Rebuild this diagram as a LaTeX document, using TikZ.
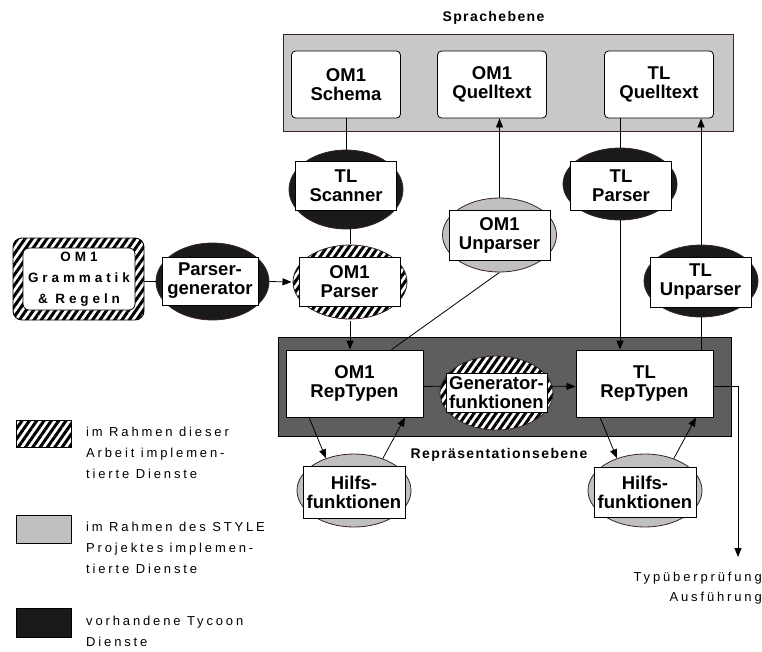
\documentclass[tikz,border=0pt]{standalone}
\usepackage{fontspec}
\setmainfont{Liberation Sans}
\newfontfamily\spacedfont{Liberation Sans}[LetterSpace=22]
\newfontfamily\widefont{Liberation Sans}[LetterSpace=29]
\newfontfamily\titlefont{Liberation Sans}[LetterSpace=10]
\usetikzlibrary{shapes.geometric,arrows.meta,patterns.meta}

\definecolor{langgray}{HTML}{C8C8C8}
\definecolor{repgray}{HTML}{5E5E5E}
\definecolor{stylegray}{HTML}{C0C0C0}
\definecolor{tycoon}{HTML}{1A1A1A}
\definecolor{rim}{HTML}{3A2424}

\tikzset{
  conn/.style={line width=0.8pt},
  arr/.style={line width=0.8pt, -{Triangle[length=9pt,width=7pt]}},
  hatch/.style={preaction={fill=white},
    pattern={Lines[angle=55,distance=6pt,line width=3pt]}},
  oval/.style={ellipse, draw=rim, line width=0.8pt, inner sep=0pt,
    minimum width=114pt, minimum height=74pt},
  tycoonoval/.style={oval, fill=tycoon},
  styleoval/.style={oval, fill=stylegray},
  hatchoval/.style={oval, hatch},
  proc/.style={draw=black, fill=white, line width=0.8pt, inner sep=0pt,
    align=center, minimum width=101pt, minimum height=49pt,
    font=\bfseries\fontsize{18.5}{19}\selectfont},
  doc/.style={proc, rounded corners=4pt, minimum width=109pt, minimum height=67pt},
  rep/.style={proc, minimum width=137pt, minimum height=67pt},
  layertitle/.style={font=\titlefont\bfseries\fontsize{14}{16}\selectfont},
  legtext/.style={anchor=west, align=left, inner sep=0pt,
    font=\spacedfont\fontsize{13}{21}\selectfont},
  legbox/.style={draw=black, line width=0.8pt, minimum width=55pt,
    minimum height=28pt, inner sep=0pt}
}

\begin{document}
\begin{tikzpicture}[x=1pt,y=-1pt]
\useasboundingbox (0,0) rectangle (762,651);

% language layer
\node[layertitle] (sprache) at (493.5,18) {Sprachebene};
\node[draw=rim, fill=langgray, line width=0.8pt, inner sep=0pt,
      minimum width=450pt, minimum height=97pt] (lang) at (508,82.5) {};
\node[doc] (schema) at (346,84.5) {OM1\\Schema};
\node[doc] (om1q) at (492,84.5) {OM1\\Quelltext};
\node[doc] (tlq) at (659,84.5) {TL\\Quelltext};

% representation layer
\node[draw=black, fill=repgray, line width=0.8pt, inner sep=0pt,
      minimum width=453pt, minimum height=99pt] (replayer) at (504.5,386.5) {};
\node[rep] (omRep) at (354.5,383.5) {OM1\\RepTypen};
\node[rep] (tlRep) at (644.5,383.5) {TL\\RepTypen};
\node[layertitle] (reptitle) at (499,455) {Repräsentationsebene};

% services
\node[tycoonoval, minimum height=79pt] (tsE) at (346,189.5) {};
\node[proc] (ts) at (346,185.5) {TL\\Scanner};

\node[styleoval] (ouE) at (499.5,235) {};
\node[proc, minimum height=50pt] (ou) at (499.5,235) {OM1\\Unparser};

\node[tycoonoval, minimum height=72pt] (tpE) at (620,184) {};
\node[proc] (tp) at (621,185.5) {TL\\Parser};

\node[hatchoval] (opE) at (350,282) {};
\node[proc] (op) at (349.5,281.5) {OM1\\Parser};

\node[tycoonoval, minimum height=72pt] (tuE) at (701,281) {};
\node[proc, minimum height=50pt] (tu) at (700.5,282) {TL\\Unparser};

\node[tycoonoval, minimum width=113pt, minimum height=77pt] (pgE) at (212.5,281.5) {};
\node[proc, minimum width=96pt, minimum height=48pt] (pg) at (210,281) {Parser-\\generator};

\node[hatchoval, minimum width=113pt] (gfE) at (496.5,393) {};
\node[proc, minimum height=39pt] (gf) at (496.5,392.5) {Generator-\\funktionen};

\node[styleoval, minimum height=73pt] (hlE) at (354,490.5) {};
\node[proc, minimum width=102pt, minimum height=52pt] (hl) at (354,492) {Hilfs-\\funktionen};

\node[styleoval, minimum height=73pt] (hrE) at (645,490.5) {};
\node[proc, minimum width=102pt, minimum height=50pt] (hr) at (645,492) {Hilfs-\\funktionen};

% grammar input
\node[draw=black, line width=0.9pt, rounded corners=9pt, hatch, inner sep=0pt,
      minimum width=131pt, minimum height=82pt] (gram) at (78.5,279) {};
\node[draw=black, fill=white, line width=0.8pt, rounded corners=6pt, inner sep=0pt,
      minimum width=112pt, minimum height=62pt, align=center,
      font=\widefont\bfseries\fontsize{13.5}{21}\selectfont] (gramIn) at (79,279)
      {OM1\\Grammatik\\\& Regeln};

% connectors
\draw[conn] (schema.south) -- (tsE.north);
\draw[conn] (tsE.south -| opE.north) -- (opE.north);
\draw[conn] (gram.east |- pgE.west) -- (pgE.west);
\draw[arr] (pgE.east) -- (opE.west);
\draw[arr] (opE.south) -- (opE.south |- omRep.north);
\draw[arr] (ouE.north) -- (ouE.north |- om1q.south);
\draw[conn] (ouE.south) -- ([xshift=37pt]omRep.north);
\draw[conn] (tlq.south -| tpE.north) -- (tpE.north);
\draw[arr] (tpE.south) -- (tpE.south |- tlRep.north);
\draw[conn] (tlRep.north -| tuE.south) -- (tuE.south);
\draw[arr] (tuE.north) -- (tuE.north |- tlq.south);
\draw[conn] ([yshift=-3pt]omRep.east) -- (gfE.173);
\draw[arr] (gfE.7) -- ([yshift=-3pt]tlRep.west);
\draw[arr] ([xshift=-45.5pt]omRep.south) -- (hlE.131);
\draw[arr] (hlE.48) -- ([xshift=50.5pt]omRep.south);
\draw[arr] ([xshift=-44.5pt]tlRep.south) -- (hrE.131);
\draw[arr] (hrE.48) -- ([xshift=51.5pt]tlRep.south);

\coordinate (check) at (738,557);
\draw[arr] ([yshift=-3pt]tlRep.east) -| (check);
\node[anchor=east, align=right, inner sep=0pt,
      font=\spacedfont\fontsize{13}{20}\selectfont] (checktext) at (762,588)
      {Typüberprüfung\\Ausführung};

% legend
\node[legbox, hatch, minimum height=27pt] (legA) at (43.5,433.5) {};
\node[legtext] (legAtext) at (86,453) {im Rahmen dieser\\Arbeit implemen-\\tierte Dienste};
\node[legbox, fill=stylegray] (legB) at (43.5,529) {};
\node[legtext] (legBtext) at (86,548) {im Rahmen des STYLE\\Projektes implemen-\\tierte Dienste};
\node[legbox, fill=tycoon, minimum height=29pt] (legC) at (43.5,622.5) {};
\node[legtext] (legCtext) at (86,631.5) {vorhandene Tycoon\\Dienste};
\end{tikzpicture}
\end{document}
